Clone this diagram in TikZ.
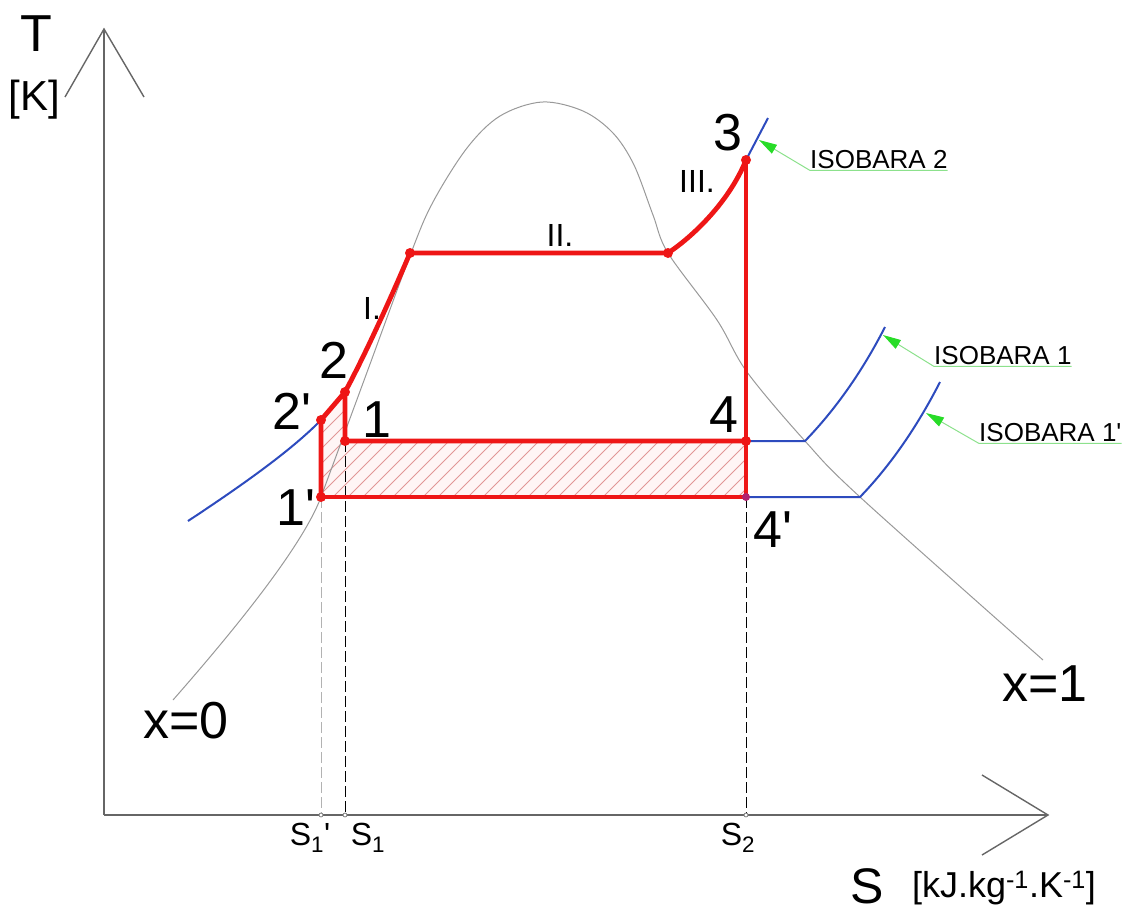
\documentclass[tikz,border=0pt]{standalone}
\usepackage{fontspec}
\setmainfont{Liberation Sans}
\usetikzlibrary{arrows.meta}
\definecolor{cred}{RGB}{238,22,22}
\definecolor{cblue}{RGB}{45,75,190}
\definecolor{cgreen}{RGB}{40,220,40}
\definecolor{cleader}{RGB}{140,225,140}
\definecolor{chatch}{RGB}{225,150,150}
\definecolor{cpurple}{RGB}{150,40,150}
\newcommand{\pr}{\textquotesingle}
\begin{document}
\begin{tikzpicture}[x=1pt,y=-1pt,
  axis/.style={draw=black!60, line width=1.4pt},
  sat/.style={draw=black!40, line width=1pt},
  cyc/.style={draw=cred, line width=4.8pt, line join=round},
  iso/.style={draw=cblue, line width=2pt},
  dot/.style={circle, fill=cred, inner sep=0pt, minimum size=10pt},
  tick/.style={circle, draw=black!50, fill=white, inner sep=0pt, minimum size=4pt, line width=0.8pt},
  leader/.style={draw=cleader, line width=1pt},
  ltip/.style={{Triangle[length=18pt,width=10pt,color=cgreen,fill=cgreen]}-},
  dashblk/.style={draw=black, line width=1pt, dash pattern=on 11pt off 4pt},
  dashgry/.style={draw=black!30, line width=1pt, dash pattern=on 11pt off 4pt},
  big/.style={font=\fontsize{52}{52}\selectfont, inner sep=0pt},
  bigS/.style={font=\fontsize{50}{50}\selectfont, inner sep=0pt},
  mid/.style={font=\fontsize{42}{42}\selectfont, inner sep=0pt},
  unit/.style={font=\fontsize{36}{36}\selectfont, inner sep=0pt},
  small/.style={font=\fontsize{32}{32}\selectfont, inner sep=0pt},
  roman/.style={font=\fontsize{32}{32}\selectfont, inner sep=0pt},
  isolbl/.style={font=\fontsize{26}{26}\selectfont, inner xsep=0pt, inner ysep=2pt, anchor=base west}
]
\useasboundingbox (0,0) rectangle (1128,914);

% key points
\coordinate (O) at (104,815);
\coordinate (Ttop) at (104,29);
\coordinate (Tw1) at (65,97);
\coordinate (Tw2) at (144,97);
\coordinate (Sright) at (1048,815);
\coordinate (Sw1) at (982,775);
\coordinate (Sw2) at (982,855);

\coordinate (p1p) at (321,497);
\coordinate (p2p) at (321,420);
\coordinate (p2) at (345,392);
\coordinate (p1) at (345,441);
\coordinate (pa) at (410,253);
\coordinate (pb) at (668,253);
\coordinate (p3) at (746,160);
\coordinate (p4) at (746,441);
\coordinate (p4p) at (746,497);

\coordinate (a1p) at (321,815);
\coordinate (a1) at (345,815);
\coordinate (a2) at (746,815);

% hatched area
\begin{scope}
  \clip (p1p) -- (p2p) -- (p2) -- (p1) -- (p4) -- (p4p) -- cycle;
  \fill[red!4] (p1p) -- (p2p) -- (p2) -- (p1) -- (p4) -- (p4p) -- cycle;
  \foreach \k in {200,215,...,760} {
    \draw[chatch, line width=0.8pt] (\k,510) -- ++(130,-130);
  }
\end{scope}

% axes
\draw[axis] (O) -- (Ttop);
\draw[axis] (Tw1) -- (Ttop) -- (Tw2);
\draw[axis] (O) -- (Sright);
\draw[axis] (Sw1) -- (Sright) -- (Sw2);

% saturation curve
\draw[sat] (173,700) .. controls (215,652) and (300,553) .. (321,497);
\draw[sat] plot[smooth, tension=0.55] coordinates {
  (321,497) (366,375) (411,253)
  (433,202) (467,148) (500,116) (542,102) (583,111) (613,133)
  (634,165) (653,215) (668,253) (717,320) (747,372) (805,441)
  (860,497) (1043,660)};

% isobars
\draw[iso] (188,521) .. controls (235,490) and (290,452) .. (p2p);
\draw[iso] (p3) -- (768,118);
\coordinate (i1a) at (805,441);
\coordinate (i1b) at (885,327);
\coordinate (i1pa) at (860,497);
\coordinate (i1pb) at (940,382);
\draw[iso] (p4) -- (i1a) .. controls (835,410) and (862,372) .. (i1b);
\draw[iso] (p4p) -- (i1pa) .. controls (890,466) and (917,427) .. (i1pb);

% dashed projections
\draw[dashgry] (p1p) -- (a1p);
\draw[dashblk] (p1) -- (a1);
\draw[dashblk] (p4p) -- (a2);
\node[tick] at (a1p) {};
\node[tick] at (a1) {};
\node[tick] at (a2) {};

% cycle
\draw[cyc] (p1p) -- (p2p) -- (p2) -- (p1) -- (p4);
\draw[cyc] (p1p) -- (p4p) -- (p3);
\draw[cyc] (p2) .. controls (365,355) and (390,300) .. (pa) -- (pb)
  .. controls (695,235) and (730,200) .. (p3);

\foreach \p in {p1p,p2p,p2,p1,pa,pb,p3,p4} { \node[dot] at (\p) {}; }
\node[dot, fill=cpurple!70!cred, minimum size=8pt] at (p4p) {};

% leaders and isobar labels
\coordinate (t2) at (759,140);
\coordinate (t1) at (883,335);
\coordinate (t1p) at (926,413);
\node[isolbl] (L2) at (810,168) {ISOBARA 2};
\node[isolbl] (L1) at (934,364) {ISOBARA 1};
\node[isolbl] (L1p) at (979,441) {ISOBARA 1\pr};
\draw[leader, ltip] (t2) -- (L2.south west) -- (L2.south east);
\draw[leader, ltip] (t1) -- (L1.south west) -- (L1.south east);
\draw[leader, ltip] (t1p) -- (L1p.south west) -- (L1p.south east);

% labels
\node[big] (lT) at (36,34) {T};
\node[mid] (lK) at (34,100) {[K]};
\node[bigS] (lS) at (867,886) {S};
\node[unit] (lU) at (1004,888) {[kJ.kg\textsuperscript{-1}.K\textsuperscript{-1}]};

\node[big] (l3) at (728,133) {3};
\node[big] (l2) at (334,360) {2};
\node[big] (l2p) at (292,411) {2\pr};
\node[big] (l1) at (377,420) {1};
\node[big] (l4) at (724,415) {4};
\node[big] (l1p) at (296,508) {1\pr};
\node[big] (l4p) at (773,530) {4\pr};

\node[roman] (rI) at (372,308) {I.};
\node[roman] (rII) at (560,235) {II.};
\node[roman] (rIII) at (697,181) {III.};

\node[big] (x0) at (186,721) {x=0};
\node[big] (x1) at (1045,684) {x=1};

\node[small] (s1p) at (310,838) {S\textsubscript{1}\pr};
\node[small] (s1) at (368,838) {S\textsubscript{1}};
\node[small] (s2) at (738,838) {S\textsubscript{2}};
\end{tikzpicture}
\end{document}
